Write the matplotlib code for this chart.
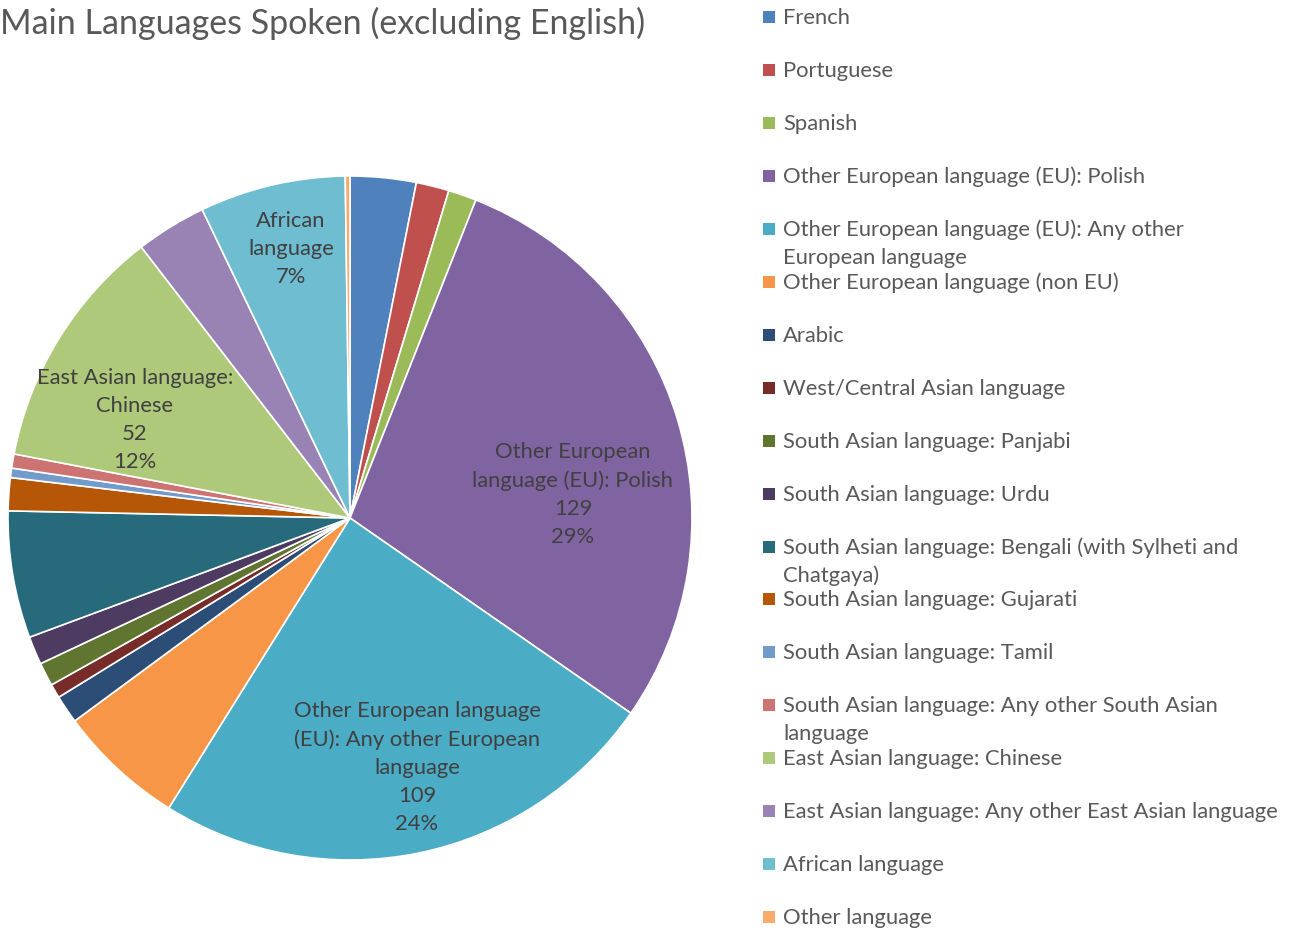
import matplotlib
matplotlib.use('Agg')
import matplotlib.pyplot as plt
from matplotlib.patches import Rectangle

plt.rcParams['font.family'] = ['Lato', 'DejaVu Sans']

languages = [
    'French', 'Portuguese', 'Spanish',
    'Other European language (EU): Polish',
    'Other European language (EU): Any other European language',
    'Other European language (non EU)', 'Arabic',
    'West/Central Asian language', 'South Asian language: Panjabi',
    'South Asian language: Urdu',
    'South Asian language: Bengali (with Sylheti and Chatgaya)',
    'South Asian language: Gujarati', 'South Asian language: Tamil',
    'South Asian language: Any other South Asian language',
    'East Asian language: Chinese',
    'East Asian language: Any other East Asian language',
    'African language', 'Other language',
]
legend_text = [
    'French', 'Portuguese', 'Spanish',
    'Other European language (EU): Polish',
    'Other European language (EU): Any other\nEuropean language',
    'Other European language (non EU)', 'Arabic',
    'West/Central Asian language', 'South Asian language: Panjabi',
    'South Asian language: Urdu',
    'South Asian language: Bengali (with Sylheti and\nChatgaya)',
    'South Asian language: Gujarati', 'South Asian language: Tamil',
    'South Asian language: Any other South Asian\nlanguage',
    'East Asian language: Chinese',
    'East Asian language: Any other East Asian language',
    'African language', 'Other language',
]
speakers = [14, 7, 6, 129, 109, 27, 6, 3, 5, 6, 27, 7, 2, 3, 52, 15, 31, 1]
colors = ['#4F81BD', '#C0504D', '#9BBB59', '#8064A2', '#4BACC6', '#F79646',
          '#2C4D75', '#772C2A', '#5F7530', '#4D3B62', '#276A7C', '#B65708',
          '#729ACA', '#CD7371', '#AFC97A', '#9983B5', '#6FBDD1', '#F9AB6B']

# data labels on the big slices: index -> (text, position, show value)
labelled = {
    3: ('Other European\nlanguage (EU): Polish', (0.652, 0.070), True),
    4: ('Other European language\n(EU): Any other European\nlanguage', (0.196, -0.730), True),
    14: ('East Asian language:\nChinese', (-0.629, 0.287), True),
    16: ('African\nlanguage', (-0.173, 0.787), False),
}

fig = plt.figure(figsize=(13, 9.31), dpi=100)
ax = fig.add_axes([8 / 1300, 71 / 931, 684 / 1300, 684 / 931])
ax.pie(speakers, colors=colors, startangle=90, counterclock=False,
       radius=1, wedgeprops=dict(edgecolor='white', linewidth=1.2))
ax.set_xlim(-1, 1)
ax.set_ylim(-1, 1)
ax.set_aspect('equal')

total = sum(speakers)
for i, (txt, (x, y), show_val) in labelled.items():
    pct = round(100 * speakers[i] / total)
    if show_val:
        s = '%s\n%d\n%d%%' % (txt, speakers[i], pct)
    else:
        s = '%s\n%d%%' % (txt, pct)
    ax.text(x, y, s, ha='center', va='center', fontsize=15.8,
            color='#404040', linespacing=1.5)

fig.text(0.0, 1 - 23 / 931, 'Main Languages Spoken (excluding English)',
         fontsize=24.5, color='#595959', ha='left', va='center')

# legend, one row per slice
for k, name in enumerate(legend_text):
    yc = 17 + k * 52.95
    fig.patches.append(Rectangle((763 / 1300, 1 - (yc + 6) / 931), 12 / 1300, 12 / 931,
                                 transform=fig.transFigure, facecolor=colors[k],
                                 edgecolor='none'))
    fig.text(783 / 1300, 1 - (yc - 9) / 931, name, fontsize=15.8, color='#595959',
             ha='left', va='top', linespacing=1.45)

plt.savefig('out.png', dpi=100)
